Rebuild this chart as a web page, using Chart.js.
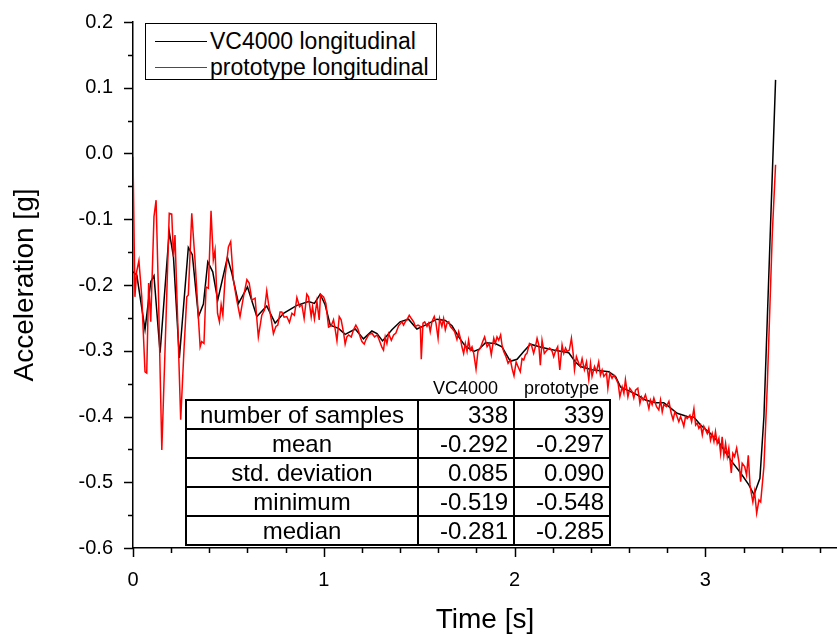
<!DOCTYPE html>
<html>
<head>
<meta charset="utf-8">
<script src="https://cdn.jsdelivr.net/npm/chart.js@4.4.1/dist/chart.umd.min.js"></script>
<style>
  body { margin: 0; background: #fff; }
  #wrap { position: relative; width: 837px; height: 634px; font-family: "Liberation Sans", Arial, sans-serif; color: #000; }
  #legendBox { position: absolute; left: 145px; top: 23px; width: 292px; height: 57px; box-sizing: border-box; border: 1px solid #000; background: #fff; }
  .legend-row { position: absolute; left: 0; height: 26px; font-size: 23px; line-height: 26px; white-space: nowrap; }
  .legend-swatch { position: absolute; left: 9px; top: 13px; width: 52px; border-top: 1.5px solid; }
  .legend-text { position: absolute; left: 64px; top: 0; }
  .col-head { position: absolute; top: 378px; font-size: 18px; line-height: 20px; text-align: center; }
  #stats { position: absolute; left: 185px; top: 399px; border-collapse: collapse; background: #fff; font-size: 24px; }
  #stats td { border: 2px solid #000; height: 27px; padding: 0 5px; line-height: 27px; white-space: nowrap; }
  #stats td.name { width: 220px; text-align: center; }
  #stats td.num { width: 84px; text-align: right; }
</style>
</head>
<body>
<div id="wrap">
  <canvas id="chart" width="837" height="634"></canvas>
  <div id="legendBox"></div>
  <div class="col-head" style="left:418px;width:95px;">VC4000</div>
  <div class="col-head" style="left:513px;width:97px;">prototype</div>
  <table id="stats"></table>
</div>
<script>
// VC4000 longitudinal (black), time [s] and acceleration [g]
const timeVC = [
  0, 0.02, 0.063, 0.093, 0.11, 0.142, 0.19, 0.212, 0.243, 0.29,
  0.311, 0.343, 0.369, 0.392, 0.418, 0.444, 0.495, 0.518, 0.553, 0.6,
  0.649, 0.701, 0.745, 0.789, 0.859, 0.92, 0.951, 0.981, 1.007, 1.034,
  1.077, 1.112, 1.165, 1.208, 1.252, 1.279, 1.308, 1.357, 1.4, 1.444,
  1.488, 1.532, 1.593, 1.637, 1.672, 1.707, 1.742, 1.786, 1.812, 1.847,
  1.899, 1.934, 1.978, 2.013, 2.048, 2.083, 2.144, 2.205, 2.284, 2.319,
  2.345, 2.406, 2.494, 2.529, 2.555, 2.599, 2.643, 2.686, 2.739, 2.782,
  2.809, 2.852, 2.905, 2.94, 2.975, 3.027, 3.08, 3.132, 3.185, 3.228,
  3.255, 3.286, 3.307, 3.368
];
const accVC = [
  -0.18, -0.185, -0.268, -0.195, -0.186, -0.303, -0.119, -0.157, -0.311, -0.143,
  -0.154, -0.248, -0.229, -0.165, -0.18, -0.223, -0.158, -0.182, -0.228, -0.203,
  -0.248, -0.232, -0.258, -0.243, -0.231, -0.225, -0.228, -0.214, -0.23, -0.261,
  -0.266, -0.275, -0.267, -0.282, -0.27, -0.274, -0.285, -0.268, -0.256, -0.252,
  -0.267, -0.261, -0.252, -0.254, -0.262, -0.279, -0.293, -0.301, -0.298, -0.288,
  -0.289, -0.294, -0.316, -0.313, -0.301, -0.29, -0.295, -0.299, -0.303, -0.317,
  -0.324, -0.329, -0.332, -0.339, -0.355, -0.361, -0.367, -0.375, -0.379, -0.379,
  -0.385, -0.395, -0.4, -0.401, -0.413, -0.426, -0.443, -0.466, -0.486, -0.504,
  -0.519, -0.494, -0.4, 0.112
];

// prototype longitudinal (red)
const timeProto = [
  0, 0.01, 0.019, 0.031, 0.046, 0.063, 0.072, 0.082, 0.093, 0.11,
  0.121, 0.133, 0.151, 0.173, 0.19, 0.203, 0.212, 0.22, 0.233, 0.25,
  0.268, 0.282, 0.29, 0.308, 0.325, 0.343, 0.352, 0.36, 0.372, 0.383,
  0.395, 0.409, 0.421, 0.43, 0.443, 0.453, 0.462, 0.471, 0.483, 0.5,
  0.512, 0.526, 0.544, 0.561, 0.579, 0.597, 0.609, 0.623, 0.64, 0.657,
  0.675, 0.689, 0.701, 0.71, 0.724, 0.736, 0.749, 0.759, 0.771, 0.78,
  0.792, 0.806, 0.82, 0.833, 0.846, 0.859, 0.873, 0.885, 0.897, 0.911,
  0.92, 0.934, 0.941, 0.951, 0.964, 0.976, 0.983, 0.999, 1.011, 1.025,
  1.039, 1.051, 1.06, 1.069, 1.081, 1.091, 1.104, 1.112, 1.121, 1.13,
  1.144, 1.156, 1.168, 1.179, 1.191, 1.2, 1.212, 1.221, 1.235, 1.252,
  1.266, 1.28, 1.291, 1.305, 1.313, 1.322, 1.331, 1.34, 1.354, 1.366,
  1.378, 1.392, 1.41, 1.418, 1.427, 1.439, 1.448, 1.459, 1.471, 1.48,
  1.494, 1.506, 1.511, 1.52, 1.529, 1.541, 1.55, 1.558, 1.567, 1.579,
  1.588, 1.599, 1.607, 1.619, 1.628, 1.637, 1.646, 1.655, 1.663, 1.672,
  1.686, 1.698, 1.707, 1.716, 1.724, 1.733, 1.742, 1.751, 1.759, 1.768,
  1.777, 1.786, 1.798, 1.808, 1.821, 1.833, 1.843, 1.856, 1.868, 1.878,
  1.891, 1.899, 1.908, 1.917, 1.927, 1.934, 1.943, 1.955, 1.966, 1.978,
  1.987, 1.997, 2.008, 2.018, 2.03, 2.039, 2.048, 2.057, 2.065, 2.078,
  2.088, 2.1, 2.109, 2.118, 2.127, 2.135, 2.144, 2.156, 2.17, 2.184,
  2.197, 2.205, 2.214, 2.226, 2.237, 2.249, 2.258, 2.267, 2.275, 2.287,
  2.298, 2.307, 2.314, 2.324, 2.336, 2.345, 2.354, 2.366, 2.377, 2.389,
  2.398, 2.406, 2.419, 2.429, 2.441, 2.45, 2.459, 2.468, 2.482, 2.489,
  2.499, 2.511, 2.52, 2.534, 2.543, 2.552, 2.564, 2.573, 2.581, 2.594,
  2.604, 2.616, 2.625, 2.634, 2.646, 2.657, 2.665, 2.674, 2.686, 2.695,
  2.704, 2.712, 2.721, 2.73, 2.744, 2.756, 2.765, 2.774, 2.782, 2.796,
  2.809, 2.821, 2.831, 2.84, 2.849, 2.861, 2.87, 2.882, 2.887, 2.896,
  2.905, 2.919, 2.928, 2.94, 2.949, 2.957, 2.966, 2.975, 2.984, 2.992,
  3.001, 3.01, 3.018, 3.027, 3.036, 3.045, 3.053, 3.062, 3.071, 3.08,
  3.088, 3.097, 3.106, 3.115, 3.123, 3.136, 3.144, 3.153, 3.164, 3.176,
  3.185, 3.193, 3.206, 3.216, 3.225, 3.234, 3.241, 3.249, 3.258, 3.269,
  3.281, 3.29, 3.307, 3.325, 3.351, 3.368
];
const accProto = [
  -0.005, -0.218, -0.18, -0.163, -0.218, -0.332, -0.334, -0.197, -0.256, -0.096,
  -0.071, -0.208, -0.451, -0.253, -0.091, -0.092, -0.157, -0.124, -0.243, -0.405,
  -0.294, -0.218, -0.215, -0.091, -0.162, -0.251, -0.294, -0.286, -0.289, -0.203,
  -0.205, -0.087, -0.162, -0.147, -0.243, -0.256, -0.23, -0.246, -0.187, -0.142,
  -0.134, -0.192, -0.223, -0.248, -0.218, -0.192, -0.197, -0.223, -0.22, -0.279,
  -0.246, -0.238, -0.209, -0.228, -0.251, -0.274, -0.263, -0.261, -0.241, -0.241,
  -0.249, -0.248, -0.257, -0.243, -0.246, -0.219, -0.233, -0.23, -0.251, -0.214,
  -0.218, -0.248, -0.233, -0.252, -0.225, -0.253, -0.214, -0.218, -0.228, -0.264,
  -0.262, -0.253, -0.268, -0.285, -0.248, -0.253, -0.273, -0.29, -0.279, -0.276,
  -0.279, -0.268, -0.261, -0.267, -0.279, -0.286, -0.29, -0.283, -0.276, -0.273,
  -0.279, -0.276, -0.284, -0.295, -0.299, -0.279, -0.289, -0.274, -0.284, -0.276,
  -0.273, -0.262, -0.256, -0.261, -0.256, -0.251, -0.246, -0.251, -0.256, -0.263,
  -0.261, -0.263, -0.313, -0.258, -0.256, -0.263, -0.258, -0.271, -0.256, -0.248,
  -0.258, -0.281, -0.251, -0.263, -0.251, -0.268, -0.258, -0.256, -0.263, -0.266,
  -0.271, -0.283, -0.271, -0.281, -0.294, -0.304, -0.289, -0.301, -0.284, -0.299,
  -0.294, -0.304, -0.328, -0.301, -0.296, -0.286, -0.279, -0.294, -0.289, -0.306,
  -0.281, -0.289, -0.279, -0.284, -0.276, -0.291, -0.301, -0.309, -0.319, -0.314,
  -0.327, -0.338, -0.317, -0.324, -0.332, -0.312, -0.314, -0.306, -0.304, -0.289,
  -0.291, -0.304, -0.294, -0.281, -0.291, -0.322, -0.284, -0.304, -0.299, -0.296,
  -0.301, -0.309, -0.301, -0.294, -0.329, -0.291, -0.304, -0.296, -0.301, -0.299,
  -0.281, -0.304, -0.329, -0.309, -0.319, -0.324, -0.312, -0.329, -0.317, -0.344,
  -0.319, -0.339, -0.324, -0.332, -0.317, -0.337, -0.329, -0.339, -0.334, -0.357,
  -0.334, -0.342, -0.337, -0.344, -0.35, -0.37, -0.355, -0.365, -0.344, -0.37,
  -0.357, -0.362, -0.372, -0.36, -0.357, -0.38, -0.37, -0.375, -0.367, -0.377,
  -0.388, -0.375, -0.382, -0.372, -0.385, -0.39, -0.375, -0.393, -0.382, -0.385,
  -0.377, -0.395, -0.405, -0.393, -0.398, -0.408, -0.4, -0.41, -0.415, -0.4,
  -0.403, -0.398, -0.408, -0.388, -0.413, -0.41, -0.418, -0.413, -0.428, -0.415,
  -0.42, -0.426, -0.418, -0.436, -0.426, -0.438, -0.423, -0.441, -0.433, -0.456,
  -0.431, -0.459, -0.441, -0.461, -0.448, -0.486, -0.456, -0.461, -0.448, -0.469,
  -0.499, -0.471, -0.476, -0.489, -0.459, -0.504, -0.517, -0.53, -0.514, -0.547,
  -0.527, -0.53, -0.476, -0.35, -0.121, -0.017
];

const seriesNames = ['VC4000 longitudinal', 'prototype longitudinal'];
const seriesColors = ['#000000', '#ff0000'];

// statistics table
const statNames = ['number of samples', 'mean', 'std. deviation', 'minimum', 'median'];
const statsVC = ['338', '-0.292', '0.085', '-0.519', '-0.281'];
const statsProto = ['339', '-0.297', '0.090', '-0.548', '-0.285'];

const FONT = '"Liberation Sans", Arial, sans-serif';

function toPoints(times, values) {
  return times.map((t, i) => ({ x: t, y: values[i] }));
}

// legend (drawn as html so it can carry the framed box)
const legendBox = document.getElementById('legendBox');
seriesNames.forEach((name, i) => {
  const row = document.createElement('div');
  row.className = 'legend-row';
  row.style.top = (4 + i * 26) + 'px';
  row.innerHTML = '<span class="legend-swatch" style="border-color:' + seriesColors[i] + '"></span>' +
    '<span class="legend-text">' + name + '</span>';
  legendBox.appendChild(row);
});

// stats table
const table = document.getElementById('stats');
statNames.forEach((name, i) => {
  const tr = document.createElement('tr');
  tr.innerHTML = '<td class="name">' + name + '</td><td class="num">' + statsVC[i] +
    '</td><td class="num">' + statsProto[i] + '</td>';
  table.appendChild(tr);
});

// minor/major tick marks pointing outward, like the original plot
const tickMarks = {
  id: 'tickMarks',
  afterDraw(chart) {
    const { ctx, scales: { x, y }, chartArea } = chart;
    ctx.save();
    ctx.strokeStyle = '#000';
    ctx.lineWidth = 1.5;
    ctx.beginPath();
    for (let i = 0; i <= 18; i++) {
      const px = Math.round(x.getPixelForValue(i * 0.2)) + 0.5;
      const len = i % 5 === 0 ? 9 : 5;
      ctx.moveTo(px, chartArea.bottom);
      ctx.lineTo(px, chartArea.bottom + len);
    }
    for (let i = 0; i <= 16; i++) {
      const py = Math.round(y.getPixelForValue(-0.6 + i * 0.05)) + 0.5;
      const len = i % 2 === 0 ? 9 : 5;
      ctx.moveTo(chartArea.left, py);
      ctx.lineTo(chartArea.left - len, py);
    }
    ctx.stroke();
    ctx.restore();
  }
};

new Chart(document.getElementById('chart'), {
  type: 'line',
  data: {
    datasets: [
      {
        label: seriesNames[0],
        data: toPoints(timeVC, accVC),
        borderColor: seriesColors[0],
        borderWidth: 1.5,
        pointRadius: 0,
        tension: 0,
        order: 2
      },
      {
        label: seriesNames[1],
        data: toPoints(timeProto, accProto),
        borderColor: seriesColors[1],
        borderWidth: 1.5,
        pointRadius: 0,
        tension: 0,
        order: 1
      }
    ]
  },
  options: {
    responsive: false,
    animation: false,
    layout: { padding: { top: 22, right: 0, left: 0, bottom: 0 } },
    plugins: {
      legend: { display: false },
      tooltip: { enabled: false }
    },
    scales: {
      x: {
        type: 'linear',
        min: 0,
        max: 3.69,
        grid: { display: false, drawTicks: false },
        border: { display: true, color: '#000', width: 1.5 },
        ticks: {
          stepSize: 1,
          includeBounds: false,
          padding: 20,
          color: '#000',
          font: { family: FONT, size: 20 },
          callback: v => String(v)
        },
        title: {
          display: true,
          text: 'Time [s]',
          color: '#000',
          font: { family: FONT, size: 28, lineHeight: 1 },
          padding: { top: 0, bottom: 0 }
        },
        afterFit: scale => {
          scale.height = 86;
          scale.paddingLeft = 0;
          scale.paddingRight = 0;
        }
      },
      y: {
        type: 'linear',
        min: -0.6,
        max: 0.2,
        grid: { display: false, drawTicks: false },
        border: { display: true, color: '#000', width: 1.5 },
        ticks: {
          stepSize: 0.1,
          includeBounds: false,
          padding: 20,
          color: '#000',
          font: { family: FONT, size: 20 },
          callback: v => v.toFixed(1)
        },
        title: {
          display: true,
          text: 'Acceleration [g]',
          color: '#000',
          font: { family: FONT, size: 28, lineHeight: 1 },
          padding: { top: 11, bottom: 0 }
        },
        afterFit: scale => {
          scale.width = 133;
          scale.paddingTop = 0;
          scale.paddingBottom = 0;
        }
      }
    }
  },
  plugins: [tickMarks]
});
</script>
</body>
</html>
